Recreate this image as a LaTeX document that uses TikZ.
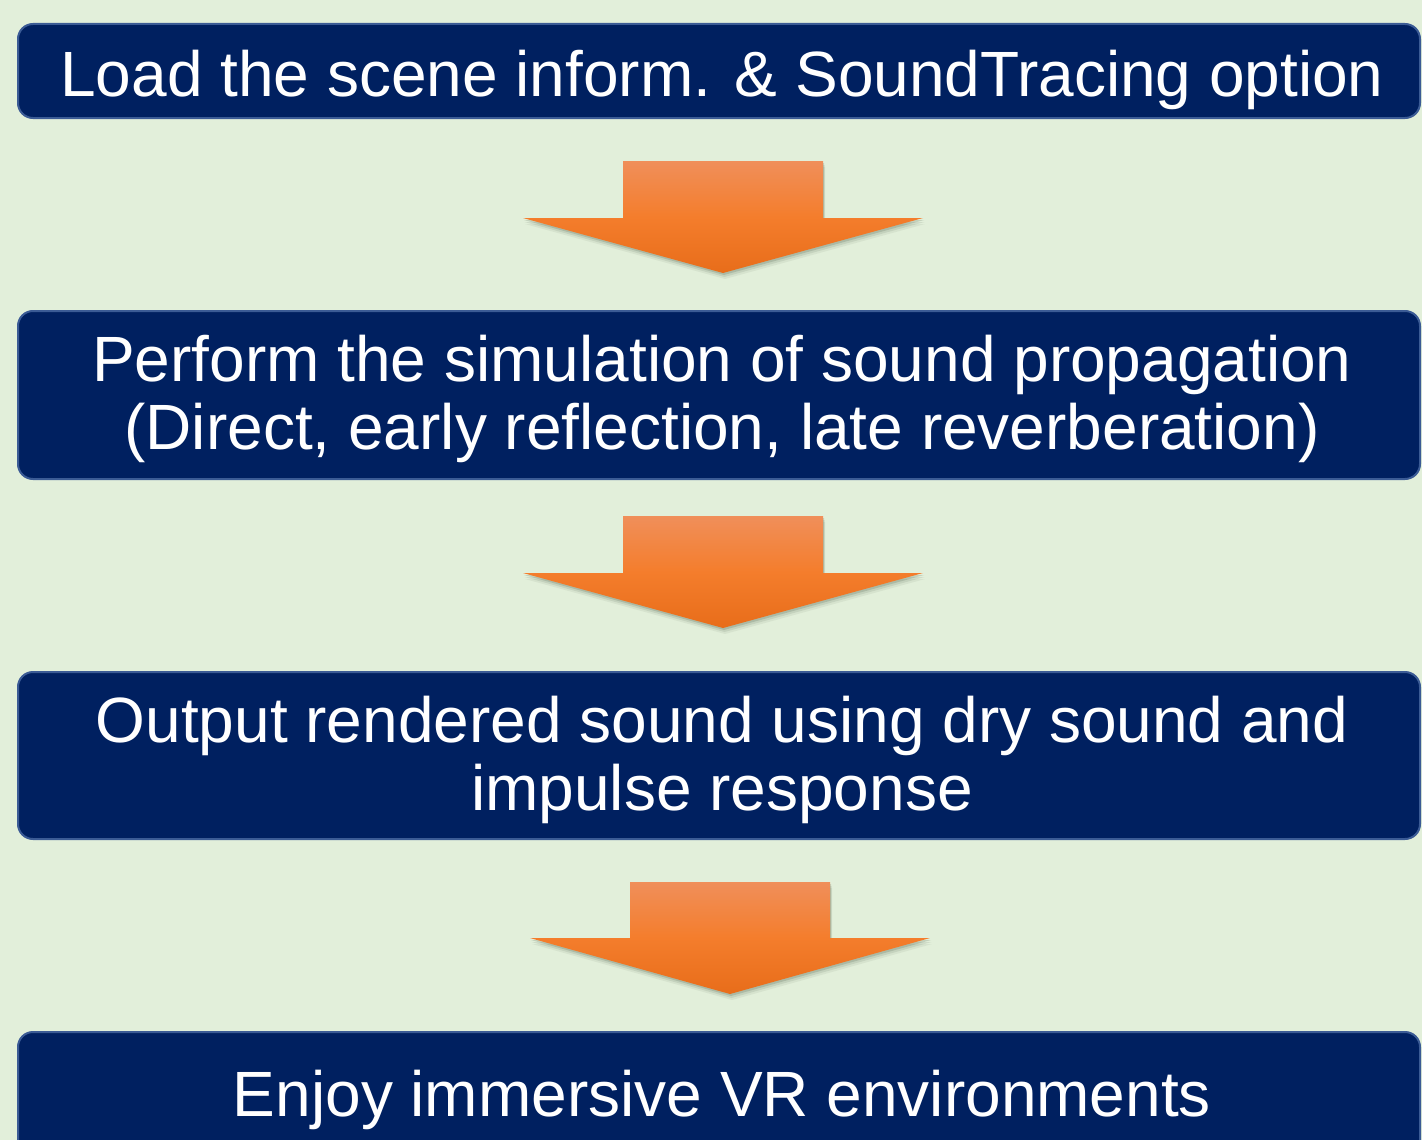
\documentclass[tikz,border=0pt]{standalone}
\usepackage{fontspec}
\setmainfont{Liberation Sans}
\usetikzlibrary{shadows}
\definecolor{bg}{HTML}{E2EFDA}
\definecolor{navy}{HTML}{002060}
\definecolor{navyedge}{HTML}{3B5B95}
\definecolor{orTop}{HTML}{F08F5A}
\definecolor{orMid}{HTML}{F47D2C}
\definecolor{orBot}{HTML}{E86D1A}
\definecolor{shadowc}{HTML}{4A5A48}
\begin{document}
\begin{tikzpicture}[x=1pt,y=-1pt,
  stepbox/.style={draw=navyedge, line width=2pt, fill=navy, rounded corners=15pt,
    minimum width=1402pt, inner sep=0pt},
  steptext/.style={text=white, align=center, anchor=base, inner sep=0pt,
    font=\fontsize{64}{68}\selectfont},
  blockarrow/.style={top color=orTop, bottom color=orBot, middle color=orMid, draw=none,
    general shadow={shadow xshift=2pt, shadow yshift=-6pt, opacity=0.08, fill=shadowc},
    general shadow={shadow xshift=1.5pt, shadow yshift=-4pt, opacity=0.12, fill=shadowc},
    general shadow={shadow xshift=1pt, shadow yshift=-2pt, opacity=0.2, fill=shadowc}}]
\useasboundingbox (0,0) rectangle (1422,1140);
\clip (0,0) rectangle (1422,1140);
\fill[bg] (0,0) rectangle (1422,1140);

% boxes
\node[stepbox, minimum height=94pt] (b1) at (719,71) {};
\node[stepbox, minimum height=168pt] (b2) at (719,395) {};
\node[stepbox, minimum height=167pt] (b3) at (719,755.5) {};
\node[stepbox, minimum height=168pt] (b4) at (719,1116) {};

% texts (base anchor = baseline of the last line)
\node[steptext] (t1) at (722,96) {Load the scene inform. \& SoundTracing option};
\node[steptext] (t2) at (722,449) {Perform the simulation of sound propagation\\(Direct, early reflection, late reverberation)};
\node[steptext] (t3) at (722,810) {Output rendered sound using dry sound and\\impulse response};
\node[steptext] (t4) at (722,1116) {Enjoy immersive VR environments};

% block arrows
\path[blockarrow] (623,161) -- (823,161) -- (823,218) -- (923,218) -- (723,273) -- (523,218) -- (623,218) -- cycle;
\path[blockarrow] (623,516) -- (823,516) -- (823,573) -- (923,573) -- (723,628) -- (523,573) -- (623,573) -- cycle;
\path[blockarrow] (630,882) -- (830,882) -- (830,938) -- (930,938) -- (730,994) -- (530,938) -- (630,938) -- cycle;
\end{tikzpicture}
\end{document}
